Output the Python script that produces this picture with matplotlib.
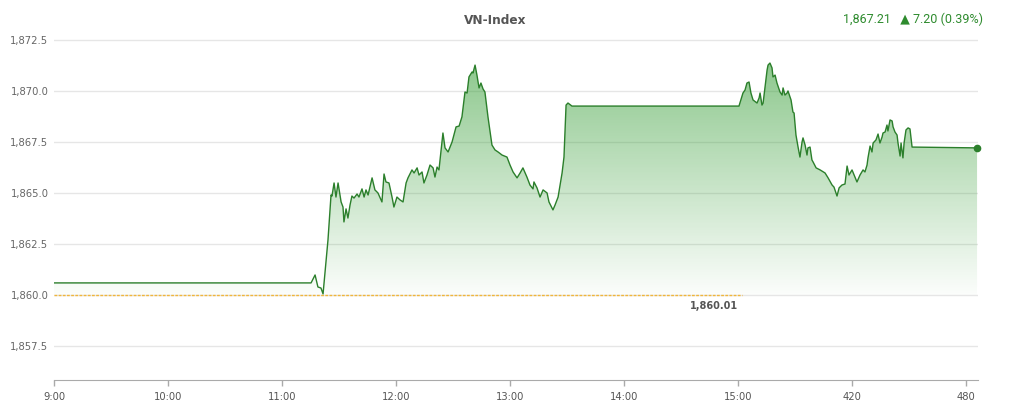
import matplotlib
matplotlib.use("Agg")
import matplotlib.pyplot as plt
import numpy as np
from matplotlib.colors import LinearSegmentedColormap

minutes = [0, 135.3, 137.4, 138.9, 140.5, 141.6, 144.2, 145.8, 146.3, 147.4, 148.4, 149.5, 151.1, 152.1, 152.6,
           153.7, 154.7, 155.8, 156.8, 157.9, 159.5, 160.5, 162.1, 163.2, 164.2, 165.3, 167.4, 168.9, 170.5,
           172.6, 173.7, 174.7, 176.3, 177.9, 178.9, 180.5, 182.1, 183.7, 185.3, 186.3, 188.4, 189.5, 191.1,
           192.1, 193.7, 194.7, 196.3, 197.9, 199.5, 200.5, 201.6, 202.6, 204.7, 205.8, 207.4, 209.5, 211.6,
           213.2, 214.7, 216.3, 217.4, 218.4, 220.0, 220.5, 221.6, 222.6, 223.7, 224.7, 225.8, 226.8, 228.4,
           230.5, 232.1, 233.7, 235.8, 238.4, 240.0, 241.6, 243.7, 245.3, 246.8, 248.9, 250.5, 252.1, 252.6,
           254.2, 255.8, 257.4, 259.5, 260.5, 262.6, 263.7, 265.3, 267.4, 268.4, 269.5, 270.5, 272.6, 360.5,
           362.6, 363.7, 364.7, 365.8, 366.8, 367.9, 370.0, 371.1, 371.6, 372.6, 373.2, 374.2, 375.3, 375.8,
           376.8, 377.9, 378.4, 379.5, 380.5, 382.1, 383.2, 383.7, 384.7, 385.8, 386.3, 387.9, 388.9, 389.5,
           390.5, 391.6, 392.6, 393.7, 394.2, 395.3, 396.3, 396.8, 397.9, 398.9, 399.5, 401.1, 403.2, 405.8,
           407.4, 409.5, 410.5, 412.1, 413.2, 414.7, 416.3, 417.4, 418.4, 420.0, 421.1, 422.6, 424.2, 425.8,
           426.8, 427.9, 428.4, 429.5, 430.5, 431.1, 432.6, 433.7, 434.7, 435.8, 436.3, 437.4, 438.4, 438.9,
           440.0, 441.1, 441.6, 442.6, 443.7, 444.2, 445.3, 445.8, 446.8, 447.4, 448.4, 449.5, 450.5, 451.6,
           485.8]
index_values = [1860.59, 1860.59, 1860.98, 1860.39, 1860.34, 1860.05, 1862.70, 1864.90, 1864.85, 1865.49,
                1864.80, 1865.49, 1864.56, 1864.31, 1863.58, 1864.22, 1863.77, 1864.41, 1864.85, 1864.75,
                1864.95, 1864.80, 1865.20, 1864.80, 1865.15, 1864.90, 1865.74, 1865.15, 1865.00, 1864.56,
                1865.93, 1865.54, 1865.49, 1864.80, 1864.31, 1864.80, 1864.66, 1864.56, 1865.49, 1865.74,
                1866.13, 1865.98, 1866.23, 1865.88, 1866.03, 1865.49, 1865.88, 1866.37, 1866.23, 1865.78,
                1866.27, 1866.13, 1867.94, 1867.21, 1867.01, 1867.50, 1868.24, 1868.28, 1868.73, 1869.95,
                1869.90, 1870.69, 1870.93, 1870.88, 1871.27, 1870.78, 1870.15, 1870.39, 1870.10, 1869.95,
                1868.73, 1867.35, 1867.11, 1867.01, 1866.86, 1866.76, 1866.37, 1866.03, 1865.74, 1865.98,
                1866.23, 1865.78, 1865.39, 1865.20, 1865.54, 1865.25, 1864.80, 1865.15, 1865.00, 1864.56,
                1864.17, 1864.41, 1864.80, 1865.98, 1866.76, 1869.31, 1869.41, 1869.26, 1869.26, 1869.90,
                1870.05, 1870.39, 1870.44, 1869.90, 1869.56, 1869.41, 1869.66, 1869.90, 1869.31, 1869.41,
                1870.20, 1871.03, 1871.27, 1871.37, 1871.13, 1870.69, 1870.78, 1870.39, 1869.95, 1869.80,
                1870.15, 1869.80, 1869.90, 1870.00, 1869.56, 1868.97, 1868.92, 1867.84, 1867.25, 1866.76,
                1867.50, 1867.70, 1867.35, 1866.86, 1867.21, 1867.25, 1866.62, 1866.52, 1866.23, 1866.13,
                1865.98, 1865.74, 1865.39, 1865.29, 1864.85, 1865.25, 1865.39, 1865.44, 1866.32, 1865.88,
                1866.13, 1865.88, 1865.54, 1865.88, 1866.13, 1866.03, 1866.37, 1866.72, 1867.30, 1867.01,
                1867.45, 1867.60, 1867.89, 1867.45, 1867.74, 1867.94, 1867.99, 1868.33, 1868.04, 1868.58,
                1868.53, 1868.24, 1867.99, 1867.84, 1867.45, 1866.81, 1867.45, 1866.72, 1867.45, 1868.09,
                1868.19, 1868.14, 1867.25, 1867.21]

reference_value = 1860.01
reference_end = 362
x_ticks = [0, 60, 120, 180, 240, 300, 360, 420, 480]
x_tick_labels = ["9:00", "10:00", "11:00", "12:00", "13:00", "14:00", "15:00", "420", "480"]
y_ticks = [1857.5, 1860.0, 1862.5, 1865.0, 1867.5, 1870.0, 1872.5]
title = "VN-Index"
summary = "1,867.21   \u25b2 7.20 (0.39%)"

W, H = 1028, 409
fig = plt.figure(figsize=(W / 100, H / 100), dpi=100)
ax = fig.add_axes([54 / W, (H - 380) / H, (978 - 54) / W, (380 - 30) / H])
ax.set_xlim(0, 486.3)
ax.set_ylim(1855.83, 1872.99)

line_color = "#2b7f2b"
x = np.array(minutes)
y = np.array(index_values)

# gradient fill
ymax = y.max()
grad = np.linspace(0, 1, 256).reshape(-1, 1)
cmap = LinearSegmentedColormap.from_list(
    "g", [(0.235, 0.63, 0.235, 0.02), (0.235, 0.63, 0.235, 0.58)])
poly = ax.fill_between(x, y, reference_value, color="none", lw=0)
img = ax.imshow(grad, extent=[x.min(), x.max(), reference_value, ymax], origin="lower",
                aspect="auto", cmap=cmap, zorder=1)
path = poly.get_paths()[0]
img.set_clip_path(path, transform=ax.transData)

ax.plot(x, y, color=line_color, lw=1.0, zorder=3)
ax.plot([x[-1]], [y[-1]], "o", color=line_color, ms=4.5, zorder=4, clip_on=False)

ax.plot([0, reference_end], [reference_value, reference_value], color="#f0b63c",
        lw=1.0, ls=(0, (2, 1)), zorder=2)
ax.text(reference_end - 2.0, reference_value - 0.33, "1,860.01", ha="right", va="top",
        fontsize=7.0, color="#555555", fontweight="bold")

ax.set_yticks(y_ticks)
ax.set_yticklabels([f"{v:,.1f}" for v in y_ticks])
ax.grid(axis="y", color="#e6e6e6", lw=1)
ax.set_axisbelow(True)
ax.set_xticks(x_ticks)
ax.set_xticklabels(x_tick_labels)
ax.tick_params(axis="y", length=0, pad=4, labelsize=7.2, labelcolor="#666666")
ax.tick_params(axis="x", length=4, width=1, color="#aaaaaa", pad=5, labelsize=7.2, labelcolor="#555555")
for s in ["top", "right", "left"]:
    ax.spines[s].set_visible(False)
ax.spines["bottom"].set_color("#aaaaaa")

fig.text(495 / W, 1 - 20 / H, title, ha="center", va="center", fontsize=8.7,
         fontweight="bold", color="#555555")
fig.text(983 / W, 1 - 19 / H, summary, ha="right", va="center", fontsize=9.0,
         color="#2e8b2e", family=["Roboto", "DejaVu Sans"])

fig.savefig("out.png", dpi=100)
